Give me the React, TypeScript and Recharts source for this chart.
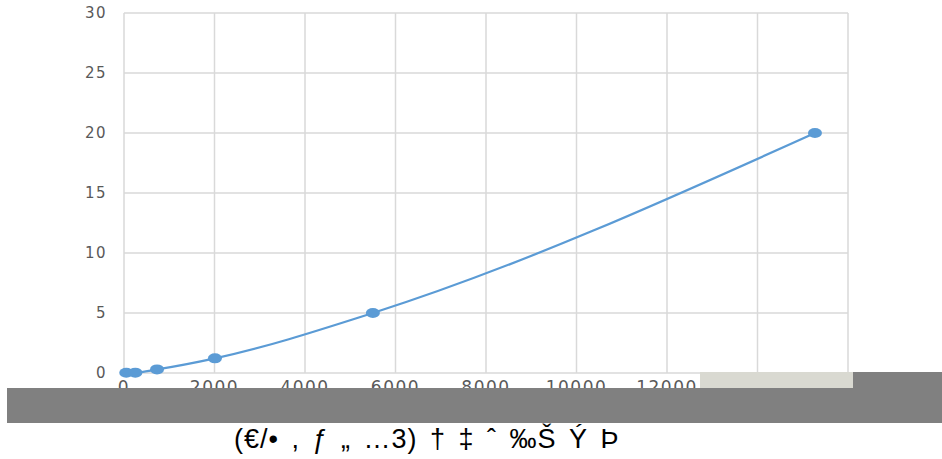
import { CartesianGrid, Line, LineChart, XAxis, YAxis } from "recharts";

const X_VALUES = [50, 250, 730, 2010, 5500, 15270];
const Y_VALUES = [0.02, 0.03, 0.3, 1.22, 5.0, 20.0];
const X_TICKS = [0, 2000, 4000, 6000, 8000, 10000, 12000, 14000, 16000];
const Y_TICKS = [0, 5, 10, 15, 20, 25, 30];
const CAPTION = "(€/• , ƒ „ …3) † ‡ ˆ ‰Š Ý Þ";

const data = X_VALUES.map((x, i) => ({ x, y: Y_VALUES[i] }));

const Dot = (props: any) => {
  const { cx, cy } = props;
  if (cx == null || cy == null) return null;
  return <ellipse cx={cx} cy={cy} rx={7} ry={5} fill="#5b9bd5" />;
};

const tickStyle = { fill: "#595959", fontSize: 15, fontFamily: "DejaVu Sans", letterSpacing: 1.5 };

export default function App() {
  return (
    <div style={{ position: "absolute", left: 0, top: 0, width: 942, height: 459, background: "#fff", overflow: "hidden" }}>
      <LineChart
        width={942}
        height={459}
        data={data}
        margin={{ top: 13, right: 94, bottom: 56, left: 84 }}
      >
        <CartesianGrid stroke="#d9d9d9" strokeWidth={1.5} />
        <XAxis
          type="number"
          dataKey="x"
          domain={[0, 16000]}
          ticks={X_TICKS}
          axisLine={false}
          tickLine={false}
          tickSize={0}
          tickMargin={8}
          height={30}
          tick={{ ...tickStyle, fontSize: 17 }}
        />
        <YAxis
          type="number"
          domain={[0, 30]}
          ticks={Y_TICKS}
          axisLine={false}
          tickLine={false}
          tickSize={0}
          tickMargin={17}
          width={40}
          tick={tickStyle}
        />
        <Line
          type="monotone"
          dataKey="y"
          stroke="#5b9bd5"
          strokeWidth={2.2}
          dot={<Dot />}
          activeDot={false}
          isAnimationActive={false}
        />
      </LineChart>
      <div style={{ position: "absolute", left: 700, top: 372, width: 153, height: 16, background: "#d9d9d1" }} />
      <div style={{ position: "absolute", left: 853, top: 372, width: 89, height: 16, background: "#808080" }} />
      <div style={{ position: "absolute", left: 7, top: 388, width: 935, height: 35, background: "#808080" }} />
      <div
        style={{
          position: "absolute",
          left: 234,
          top: 424,
          fontFamily: "Liberation Sans",
          fontSize: 27,
          letterSpacing: 1,
          wordSpacing: 4,
          color: "#000",
          whiteSpace: "pre",
        }}
      >
        {CAPTION}
      </div>
    </div>
  );
}
